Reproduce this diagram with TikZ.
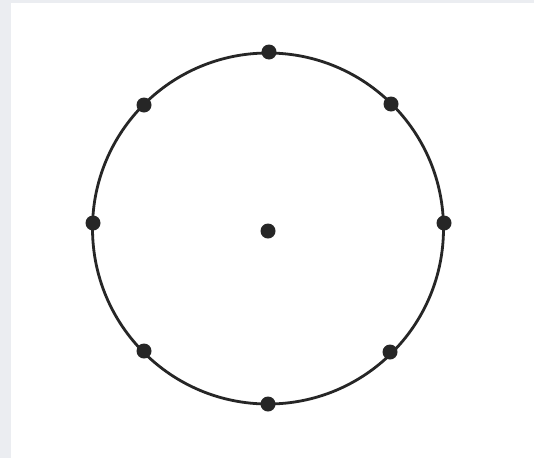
\documentclass[tikz,border=0pt]{standalone}
\definecolor{edgegray}{HTML}{EBEDF1}
\definecolor{linegray}{HTML}{262626}
\tikzset{
  dotnode/.style={circle,fill=black!85,inner sep=0pt,minimum size=15pt},
  ring/.style={draw=linegray,line width=2.8pt}
}
\begin{document}
\begin{tikzpicture}[x=1pt,y=-1pt]
\useasboundingbox (0,0) rectangle (534,458);
\fill[edgegray] (0,0) rectangle (534,458);
\fill[white] (11,3) rectangle (534,458);
\coordinate (c) at (268,228.5);
\draw[ring] (c) circle[radius=175.5];
\node[dotnode] (top) at (269,52) {};
\node[dotnode] (tl) at (144,105) {};
\node[dotnode] (tr) at (391,104) {};
\node[dotnode] (l) at (93,223) {};
\node[dotnode] (r) at (444,223) {};
\node[dotnode] (bl) at (144,351) {};
\node[dotnode] (br) at (390,352) {};
\node[dotnode] (bot) at (268,404) {};
\node[dotnode] (ctr) at (268,231) {};
\end{tikzpicture}
\end{document}
